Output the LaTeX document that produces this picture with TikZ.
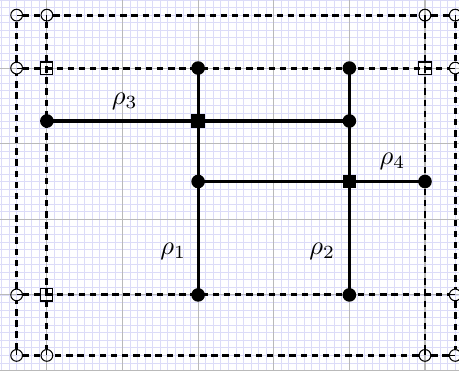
\documentclass[tikz,border=0pt]{standalone}
\usepackage{amsmath, amssymb}
\usepackage{xcolor}
\usepackage{tikz}
\usetikzlibrary{positioning}

\definecolor{gridminor}{RGB}{220,220,248}
\definecolor{gridmajor}{RGB}{185,185,185}

\begin{document}
\begin{tikzpicture}[
  every node/.style={inner sep=0pt},
  dot/.style={circle, fill=black, minimum size=1.8mm},
  junc/.style={rectangle, fill=black, minimum size=1.8mm},
  port/.style={rectangle, draw=black, thin, minimum size=1.6mm},
  ring/.style={circle, draw=black, thin, minimum size=1.55mm},
  wire/.style={line width=1.2pt},
  bound/.style={line width=1.1pt, dash pattern=on 2.4pt off 1.8pt},
  lab/.style={font=\normalsize}]
\useasboundingbox (-0.62,-1.03) rectangle (5.45,3.9);
% background grid
\draw[gridminor, line width=0.3pt, step=0.1] (-0.62,-1) grid (5.45,3.9);
\draw[gridmajor, line width=0.4pt, step=1] (-0.62,-1) grid (5.45,3.9);

% outer and inner boundary markers
\foreach \p/\a [count=\i] in {(-0.4,3.7)/0, (0,3.7)/270, (5,3.7)/270, (5.4,3.7)/270,
    (5.4,3)/180, (5.4,0)/180, (5.4,-0.8)/180, (5,-0.8)/90,
    (0,-0.8)/90, (-0.4,-0.8)/90, (-0.4,0)/0, (-0.4,3)/0}{
  \node[ring] (o\i) at \p {};
  \draw[thin] (o\i.center) -- (o\i.\a);
}
\node[port] (c1) at (0,3) {};
\node[port] (c2) at (5,3) {};
\node[port] (c3) at (0,0) {};

\draw[bound] (o1) -- (o2) -- (o3) -- (o4) -- (o5) -- (o6) -- (o7)
  -- (o8) -- (o9) -- (o10) -- (o11) -- (o12) -- (o1);
\draw[bound] (o12) -- (c1.center) -- (c2.center) -- (o5);
\draw[bound] (o11) -- (c3.center) -- (o6);
\draw[bound] (o2) -- (c1.center) -- (c3.center) -- (o9);
\draw[bound] (o3) -- (c2.center) -- (o8);

% strips
\node[dot] (t1) at (2,3) {};
\node[dot] (b1) at (2,0) {};
\node[dot] (t2) at (4,3) {};
\node[dot] (b2) at (4,0) {};
\node[dot] (l3) at (0,2.3) {};
\node[dot] (r3) at (4,2.3) {};
\node[dot] (l4) at (2,1.5) {};
\node[dot] (r4) at (5,1.5) {};
\node[junc] (x13) at (2,2.3) {};
\node[junc] (x24) at (4,1.5) {};

\draw[wire] (t1.center) -- (b1.center);
\draw[wire] (t2.center) -- (b2.center);
\draw[wire] (l3.center) -- (r3.center);
\draw[wire] (l4.center) -- (r4.center);

\node[lab] (n3) at (1.03,2.56) {$\rho_3$};
\node[lab] (n4) at (4.57,1.76) {$\rho_4$};
\node[lab] (n1) at (1.67,0.57) {$\rho_1$};
\node[lab] (n2) at (3.64,0.57) {$\rho_2$};
\end{tikzpicture}
\end{document}
